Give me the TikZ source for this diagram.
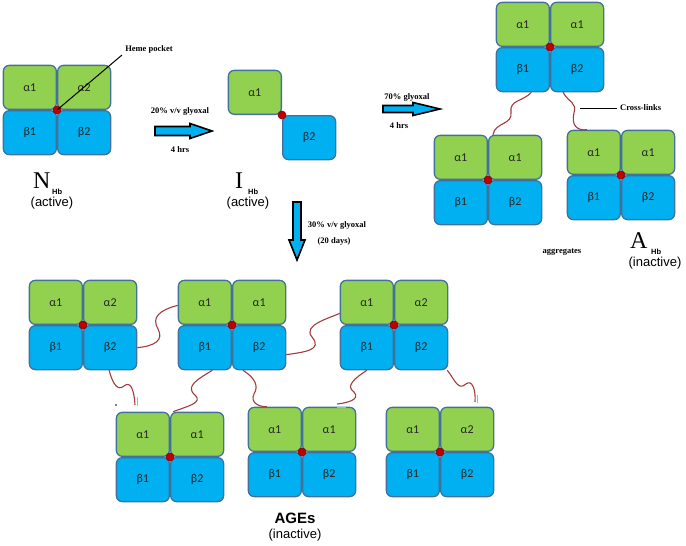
\documentclass[tikz,border=0pt]{standalone}
\usepackage{fontspec}
\setmainfont{Liberation Serif}
\newfontfamily\cellfont{Carlito}
\newfontfamily\arialf{Liberation Sans}
\usetikzlibrary{calc}
\definecolor{hgreen}{HTML}{92D050}
\definecolor{hblue}{HTML}{00B0F0}
\definecolor{hborder}{HTML}{41719C}
\definecolor{hred}{HTML}{C00000}
\definecolor{hlink}{HTML}{A33B3B}
\definecolor{htick}{HTML}{9FB6CC}
\tikzset{
 cell/.style={draw=hborder, line width=1.3pt, rounded corners=6pt, minimum width=53pt, minimum height=44pt, inner sep=0pt, text=black!85, font=\cellfont\fontsize{12}{12}\selectfont},
 acell/.style={cell, fill=hgreen},
 bcell/.style={cell, fill=hblue},
 heme/.style={circle, fill=hred, draw=hred!70!black, line width=0.6pt, minimum size=8pt, inner sep=0pt},
 xlink/.style={draw=hlink, line width=1.1pt},
 blockarrow/.style={draw=black, fill=hblue, line width=1.6pt, line join=miter},
 small/.style={inner sep=0pt, font=\bfseries\fontsize{8.5}{9}\selectfont},
 statelbl/.style={inner sep=0pt, font=\arialf\fontsize{13}{14}\selectfont},
 biglbl/.style={inner sep=0pt, font=\fontsize{24}{24}\selectfont},
 subs/.style={inner sep=0pt, font=\arialf\bfseries\fontsize{7.5}{8}\selectfont},
 tickmark/.style={draw=htick, line width=0.9pt},
}
\newcommand\tetra[6]{%
 \coordinate (#1) at (#2);
 \node[acell, anchor=south east] (#1-tl) at (#1) {#3};
 \node[acell, anchor=south west] (#1-tr) at (#1) {#4};
 \node[bcell, anchor=north east] (#1-bl) at (#1) {#5};
 \node[bcell, anchor=north west] (#1-br) at (#1) {#6};
}
\begin{document}
\begin{tikzpicture}[x=1pt, y=-1pt]
\useasboundingbox (0,0) rectangle (686,546);
% native
\tetra{N}{57,110}{α1}{α2}{β1}{β2}
\node[heme] (N-h) at (N) {};
\coordinate (hp) at (122,55);
\draw[line width=1pt] (N-h.center) -- (hp);
\node[small] (hptxt) at (149,49) {Heme pocket};
\node[biglbl, anchor=base west] (Nl) at (33,188) {N};
\node[subs, anchor=base west] (Nsub) at (52,194) {Hb};
\node[statelbl] (Nst) at (52,203) {(active)};
% arrow 1
\draw[blockarrow] (155,126.5) -- (190,126.5) -- (190,123.5) -- (212,131) -- (190,138.5) -- (190,135.5) -- (155,135.5) -- cycle;
\node[small] (a1t) at (180,111) {20\% v/v glyoxal};
\node[small] (a1b) at (180,150) {4 hrs};
% intermediate dimer
\coordinate (I) at (282,115);
\node[acell, anchor=south east] (I-tl) at (I) {α1};
\node[bcell, anchor=north west] (I-br) at (I) {β2};
\node[heme] (I-h) at (I) {};
\node[biglbl, anchor=base west] (Il) at (235,188) {I};
\node[subs, anchor=base west] (Isub) at (248,194) {Hb};
\node[statelbl] (Ist) at (248,203) {(active)};
% arrow 2
\draw[blockarrow] (383,105.5) -- (413,105.5) -- (413,102.5) -- (440,109) -- (413,115.5) -- (413,112.5) -- (383,112.5) -- cycle;
\node[small] (a2t) at (407,97) {70\% glyoxal};
\node[small] (a2b) at (399,126) {4 hrs};
% down arrow
\draw[blockarrow] (293,202) -- (301,202) -- (301,240) -- (305,240) -- (297,260) -- (289,240) -- (293,240) -- cycle;
\node[small] (a3t) at (337,225) {30\% v/v glyoxal};
\node[small] (a3b) at (334,241) {(20 days)};
% aggregates
\tetra{A0}{550,47}{α1}{α1}{β1}{β2}
\tetra{A1}{488,180}{α1}{α1}{β1}{β2}
\tetra{A2}{621,175}{α1}{α1}{β1}{β2}
\draw[xlink] ([xshift=8.5pt]A0-bl.south) .. controls (524,101) and (509,100) .. (511,112) .. controls (513,125) and (495,122) .. ([xshift=5pt]A1-tr.north west);
\draw[xlink] ([xshift=13pt]A0-br.south west) .. controls (569,103) and (577,102) .. (574,113) .. controls (571,125) and (577,131) .. ([xshift=-7pt]A2-tl.north);
\foreach \t in {A0,A1,A2} \node[heme] (\t-h) at (\t) {};
\coordinate (clA) at (580,108);
\coordinate (clB) at (617,108);
\draw[line width=1pt] (clA) -- (clB);
\node[small, anchor=west] (cltxt) at (620,108) {Cross-links};
\node[small] (aggtxt) at (562,252) {aggregates};
\node[biglbl, anchor=base west] (Al) at (630,248) {A};
\node[subs, anchor=base west] (Asub) at (651,254) {Hb};
\node[statelbl] (Ast) at (655,263) {(inactive)};
% AGEs row 1
\tetra{T1}{83,325}{α1}{α2}{β1}{β2}
\tetra{T2}{232,325}{α1}{α1}{β1}{β2}
\tetra{T3}{394,325}{α1}{α2}{β1}{β2}
% AGEs row 2
\tetra{B1}{170,457}{α1}{α1}{β1}{β2}
\tetra{B2}{302,452}{α1}{α1}{β1}{β2}
\tetra{B3}{440,452}{α1}{α2}{β1}{β2}
% cross-links
\coordinate (L2e) at (135,405);
\coordinate (L6e) at (337,404);
\coordinate (L7e) at (475,402);
\draw[xlink] (T1-br.east) .. controls (155,346) and (164,340) .. (158,329) .. controls (151,317) and (160,310) .. ([yshift=-3pt]T2-tl.west);
\draw[xlink] ([xshift=-1pt]T1-br.south) .. controls (113,385) and (118,391) .. (124,386) .. controls (130,381) and (134,388) .. (L2e);
\draw[xlink] ([xshift=7.5pt]T2-bl.south) .. controls (200,378) and (184,386) .. (195,395) .. controls (204,403) and (185,407) .. ([xshift=3pt]B1-tr.north west);
\draw[xlink] ([xshift=11pt]T2-br.south west) .. controls (255,378) and (259,386) .. (254,394) .. controls (250,402) and (258,407) .. ([xshift=-8pt]B2-tl.north);
\draw[xlink] ([yshift=-7pt]T2-br.east) .. controls (305,352) and (323,350) .. (312,337) .. controls (302,325) and (330,318) .. ([yshift=-11pt]T3-tl.west);
\draw[xlink] (T3-bl.south) .. controls (355,378) and (345,386) .. (354,392) .. controls (361,400) and (346,403) .. (L6e);
\draw[xlink] ([xshift=-1pt]T3-br.south east) .. controls (455,380) and (458,391) .. (466,384) .. controls (472,379) and (476,390) .. (L7e);
\draw[tickmark] (137,397) -- (137,406);
\draw[tickmark, draw=gray!60] (337,407.5) -- (346,407.5);
\draw[tickmark] (477,395) -- (477,403);
\fill (116,405) circle (0.8pt);
\foreach \t in {T1,T2,T3,B1,B2,B3} \node[heme] (\t-h) at (\t) {};
\node[inner sep=0pt, font=\arialf\bfseries\fontsize{15}{15}\selectfont] (ages) at (295,518) {AGEs};
\node[statelbl] (agest) at (295,535) {(inactive)};
\end{tikzpicture}
\end{document}
